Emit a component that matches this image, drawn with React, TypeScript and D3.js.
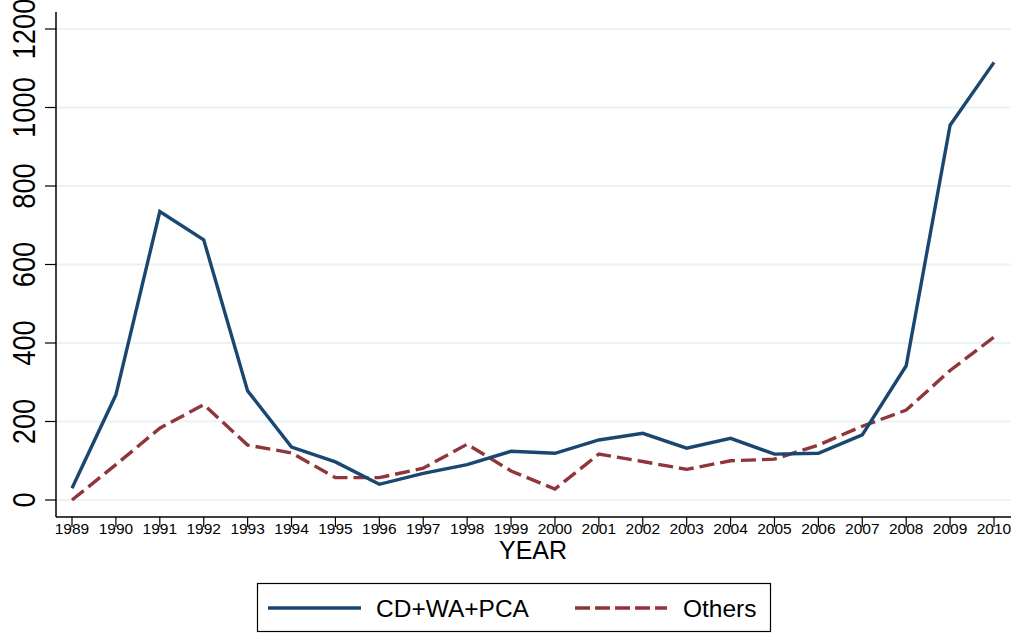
import React from 'react';
import * as d3 from 'd3';

const years = [1989, 1990, 1991, 1992, 1993, 1994, 1995, 1996, 1997, 1998, 1999,
  2000, 2001, 2002, 2003, 2004, 2005, 2006, 2007, 2008, 2009, 2010];
const cdWaPca = [30, 268, 735, 663, 278, 135, 97, 40, 68, 90, 124,
  119, 153, 170, 132, 157, 117, 119, 166, 342, 955, 1115];
const others = [0, 90, 183, 243, 140, 120, 57, 57, 81, 142, 74,
  28, 117, 98, 78, 100, 104, 140, 188, 229, 330, 415];
const yTicks = [0, 200, 400, 600, 800, 1000, 1200];

const navy = '#1a476f';
const maroon = '#90353b';
const font = '"Liberation Sans", Arial, sans-serif';

export default function App() {
  const width = 1016;
  const height = 633;

  // plot region
  const left = 56, right = 1011, top = 12, bottom = 517;

  const x = d3.scaleLinear().domain([1989, 2010]).range([72, 994]);
  const y = d3.scaleLinear().domain([0, 1200]).range([500, 29]);

  const line = d3.line<number>()
    .x((d, i) => x(years[i]))
    .y(d => y(d));

  return (
    <svg width={width} height={height}
         style={{ position: 'absolute', left: 0, top: 0, background: '#fff' }}
         fontFamily={font}>
      {/* gridlines */}
      {yTicks.map(t => (
        <line key={'g' + t} x1={left + 1} x2={right} y1={y(t)} y2={y(t)}
              stroke="#eaf2f3" strokeWidth={2} />
      ))}

      {/* axes */}
      <line x1={left} x2={left} y1={top} y2={bottom} stroke="#000" strokeWidth={1.5} />
      <line x1={left} x2={right} y1={bottom} y2={bottom} stroke="#000" strokeWidth={1.5} />

      {yTicks.map(t => (
        <g key={'y' + t}>
          <line x1={left - 11} x2={left} y1={y(t)} y2={y(t)} stroke="#000" strokeWidth={1.2} />
          <text transform={`translate(35,${y(t)}) rotate(-90) scale(0.88,1)`} textAnchor="middle"
                fontSize={31} fill="#000">{t}</text>
        </g>
      ))}

      {years.map(yr => (
        <g key={'x' + yr}>
          <line x1={x(yr)} x2={x(yr)} y1={bottom} y2={bottom + 10} stroke="#000" strokeWidth={1.2} />
          <text x={x(yr)} y={534} textAnchor="middle" fontSize={15.5} fill="#000">{yr}</text>
        </g>
      ))}

      <text x={533} y={559} textAnchor="middle" fontSize={25} fill="#000">YEAR</text>

      {/* series */}
      <path d={line(others) || ''} fill="none" stroke={maroon} strokeWidth={3.4}
            strokeDasharray="15,6" />
      <path d={line(cdWaPca) || ''} fill="none" stroke={navy} strokeWidth={3.4}
            strokeLinejoin="miter" />

      {/* legend */}
      <rect x={257.5} y={583.5} width={513} height={48} fill="#fff" stroke="#000" strokeWidth={1.2} />
      <line x1={268} x2={361} y1={608} y2={608} stroke={navy} strokeWidth={3.4} />
      <text x={376} y={617} fontSize={24.5} fill="#000">CD+WA+PCA</text>
      <line x1={575} x2={667} y1={608} y2={608} stroke={maroon} strokeWidth={3.4}
            strokeDasharray="15,5" />
      <text x={683} y={617} fontSize={24.5} fill="#000">Others</text>
    </svg>
  );
}
